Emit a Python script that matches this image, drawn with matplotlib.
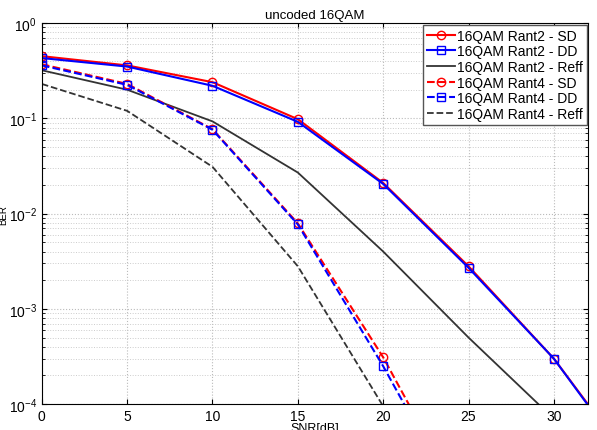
import matplotlib
matplotlib.use("Agg")
import matplotlib.pyplot as plt

plt.rcParams['font.family'] = ['Liberation Sans', 'DejaVu Sans']

snr = [0, 5, 10, 15, 20, 25, 30, 35]

rant2_sd = [0.45, 0.36, 0.24, 0.098, 0.021, 0.0028, 3.0e-4, 1.9e-5]
rant2_dd = [0.43, 0.35, 0.22, 0.092, 0.0205, 0.0027, 3.0e-4, 1.8e-5]
rant2_reff = [0.32, 0.20, 0.093, 0.027, 0.004, 5.0e-4, 7.0e-5, 1e-5]
rant4_sd = [0.37, 0.23, 0.077, 0.0079, 3.1e-4, 7e-6]
rant4_dd = [0.36, 0.225, 0.076, 0.0077, 2.5e-4, 6e-6]
rant4_reff = [0.23, 0.12, 0.031, 0.0028, 9.5e-5, 1e-6]

fig = plt.figure(figsize=(5.97, 4.31), dpi=100)
ax = fig.add_axes([0.070, 0.060, 0.915, 0.884])

ax.semilogy(snr, rant2_sd, 'r-o', lw=1.5, ms=6, mfc='none', label='16QAM Rant2 - SD')
ax.semilogy(snr, rant2_dd, 'b-s', lw=1.5, ms=6, mfc='none', label='16QAM Rant2 - DD')
ax.semilogy(snr, rant2_reff, '-', lw=1.3, color='#333333', label='16QAM Rant2 - Reff')
ax.semilogy(snr[:6], rant4_sd, 'r--o', lw=1.5, ms=6, mfc='none', label='16QAM Rant4 - SD')
ax.semilogy(snr[:6], rant4_dd, 'b--s', lw=1.5, ms=6, mfc='none', label='16QAM Rant4 - DD')
ax.semilogy(snr[:6], rant4_reff, '--', lw=1.3, color='#333333', label='16QAM Rant4 - Reff')

ax.set_xlim(0, 32)
ax.set_ylim(1e-4, 1)
ax.set_xticks([0, 5, 10, 15, 20, 25, 30])
ax.grid(True, which='major', ls=':', color='#bbbbbb', lw=0.8)
ax.grid(True, which='minor', axis='y', ls=':', color='#cccccc', lw=0.7)
ax.tick_params(direction='in', which='both', top=True, right=True, labelsize=10)

ax.set_title('uncoded 16QAM', fontsize=9.5, pad=4)
ax.set_xlabel('SNR[dB]', fontsize=9, labelpad=-1)
ax.set_ylabel('BER', fontsize=7, labelpad=0)

leg = ax.legend(loc='upper right', fontsize=10, handlelength=2.0, handletextpad=0.1,
                borderpad=0.3, labelspacing=0.12, fancybox=False, framealpha=1,
                borderaxespad=0.1)
leg.get_frame().set_edgecolor('#555555')

fig.savefig('out.png', dpi=100)
